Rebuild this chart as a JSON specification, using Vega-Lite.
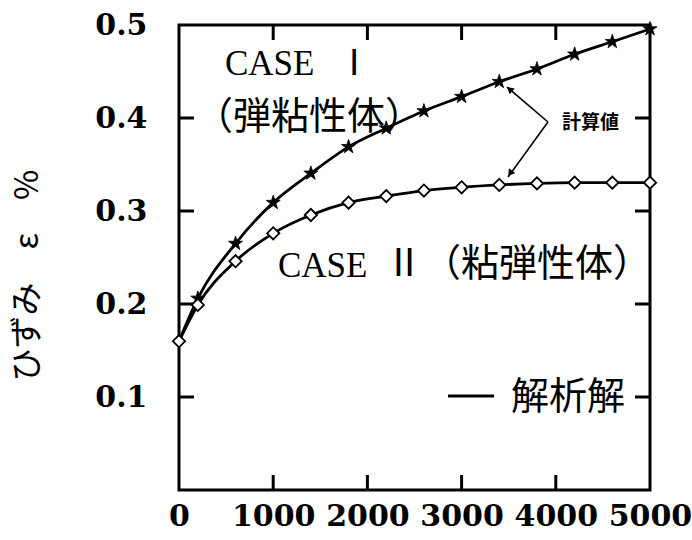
{
  "$schema": "https://vega.github.io/schema/vega-lite/v6.json",
  "autosize": "none",
  "padding": {"left": 179, "top": 25, "right": 42, "bottom": 50},
  "width": 471,
  "height": 465,
  "background": "white",
  "config": {
    "view": {"stroke": "black", "strokeWidth": 3},
    "axis": {"grid": false, "domain": false, "ticks": false, "tickSize": 0, "labelColor": "black", "titleColor": "black"}
  },
  "datasets": {
    "curves": [
      {"case": "I", "t": 0, "e": 0.160},
      {"case": "I", "t": 200, "e": 0.206},
      {"case": "I", "t": 600, "e": 0.265},
      {"case": "I", "t": 1000, "e": 0.309},
      {"case": "I", "t": 1400, "e": 0.3405},
      {"case": "I", "t": 1800, "e": 0.369},
      {"case": "I", "t": 2200, "e": 0.389},
      {"case": "I", "t": 2600, "e": 0.4075},
      {"case": "I", "t": 3000, "e": 0.423},
      {"case": "I", "t": 3400, "e": 0.439},
      {"case": "I", "t": 3800, "e": 0.4527},
      {"case": "I", "t": 4200, "e": 0.4685},
      {"case": "I", "t": 4600, "e": 0.482},
      {"case": "I", "t": 5000, "e": 0.4957},
      {"case": "II", "t": 0, "e": 0.160},
      {"case": "II", "t": 200, "e": 0.199},
      {"case": "II", "t": 600, "e": 0.246},
      {"case": "II", "t": 1000, "e": 0.276},
      {"case": "II", "t": 1400, "e": 0.2957},
      {"case": "II", "t": 1800, "e": 0.309},
      {"case": "II", "t": 2200, "e": 0.316},
      {"case": "II", "t": 2600, "e": 0.322},
      {"case": "II", "t": 3000, "e": 0.3255},
      {"case": "II", "t": 3400, "e": 0.328},
      {"case": "II", "t": 3800, "e": 0.3297},
      {"case": "II", "t": 4200, "e": 0.3305},
      {"case": "II", "t": 4600, "e": 0.3305},
      {"case": "II", "t": 5000, "e": 0.3305}
    ],
    "xticks": [{"v": 1000}, {"v": 2000}, {"v": 3000}, {"v": 4000}],
    "yticks": [{"v": 0.1}, {"v": 0.2}, {"v": 0.3}, {"v": 0.4}]
  },
  "layer": [
    {
      "data": {"name": "curves"},
      "mark": {"type": "line", "interpolate": "monotone", "stroke": "black", "strokeWidth": 2.8},
      "encoding": {
        "x": {
          "field": "t", "type": "quantitative",
          "scale": {"domain": [0, 5000], "nice": false, "zero": false},
          "axis": {
            "orient": "bottom", "values": [0, 1000, 2000, 3000, 4000, 5000],
            "labelFont": "DejaVu Serif", "labelFontWeight": "bold", "labelFontSize": 30,
            "labelPadding": 11, "labelFlush": false, "labelOverlap": false, "title": null, "format": "d"
          }
        },
        "y": {
          "field": "e", "type": "quantitative",
          "scale": {"domain": [0, 0.5], "nice": false},
          "axis": {
            "orient": "left", "values": [0.1, 0.2, 0.3, 0.4, 0.5], "format": ".1f",
            "labelFont": "DejaVu Serif", "labelFontWeight": "bold", "labelFontSize": 30,
            "labelPadding": 32, "labelFlush": false, "labelOverlap": false,
            "title": "ひずみ　ε　%", "titleFont": "Noto Sans CJK JP", "titleFontSize": 33, "titleFontWeight": "normal",
            "titleX": -152, "titleY": 250, "titleAngle": -90, "titleAlign": "center", "titleBaseline": "middle"
          }
        },
        "detail": {"field": "case"}
      }
    },
    {
      "data": {"name": "xticks"},
      "mark": {"type": "rule", "stroke": "black", "strokeWidth": 3},
      "encoding": {
        "x": {"field": "v", "type": "quantitative"},
        "y": {"datum": 0, "type": "quantitative"},
        "y2": {"datum": 0.0161}
      }
    },
    {
      "data": {"name": "xticks"},
      "mark": {"type": "rule", "stroke": "black", "strokeWidth": 3},
      "encoding": {
        "x": {"field": "v", "type": "quantitative"},
        "y": {"datum": 0.5, "type": "quantitative"},
        "y2": {"datum": 0.4839}
      }
    },
    {
      "data": {"name": "yticks"},
      "mark": {"type": "rule", "stroke": "black", "strokeWidth": 3},
      "encoding": {
        "y": {"field": "v", "type": "quantitative"},
        "x": {"datum": 0, "type": "quantitative"},
        "x2": {"datum": 159}
      }
    },
    {
      "data": {"name": "yticks"},
      "mark": {"type": "rule", "stroke": "black", "strokeWidth": 3},
      "encoding": {
        "y": {"field": "v", "type": "quantitative"},
        "x": {"datum": 5000, "type": "quantitative"},
        "x2": {"datum": 4841}
      }
    },
    {
      "data": {"name": "curves"},
      "transform": [{"filter": "datum.case == 'I' && datum.t > 0"}],
      "mark": {"type": "point", "shape": "M0,-1L0.2245,-0.309L0.951,-0.309L0.363,0.118L0.588,0.809L0,0.382L-0.588,0.809L-0.363,0.118L-0.951,-0.309L-0.2245,-0.309Z", "filled": true, "fill": "black", "stroke": "black", "strokeWidth": 0.8, "size": 220, "opacity": 1},
      "encoding": {
        "x": {"field": "t", "type": "quantitative"},
        "y": {"field": "e", "type": "quantitative"}
      }
    },
    {
      "data": {"name": "curves"},
      "transform": [{"filter": "datum.case == 'II'"}],
      "mark": {"type": "point", "shape": "diamond", "filled": true, "fill": "white", "stroke": "black", "strokeWidth": 1.8, "size": 150, "opacity": 1},
      "encoding": {
        "x": {"field": "t", "type": "quantitative"},
        "y": {"field": "e", "type": "quantitative"}
      }
    },
    {
      "data": {"values": [{"label": "CASE　Ⅰ", "x": 488, "y": 0.446}, {"label": "CASE", "x": 1051, "y": 0.229}]},
      "mark": {"type": "text", "font": "Liberation Serif", "fontSize": 35, "align": "left", "baseline": "alphabetic", "color": "black"},
      "encoding": {
        "x": {"field": "x", "type": "quantitative"},
        "y": {"field": "y", "type": "quantitative"},
        "text": {"field": "label"}
      }
    },
    {
      "data": {"values": [{"label": "（弾粘性体）", "x": 170, "y": 0.4}, {"label": "Ⅱ（粘弾性体）", "x": 2187, "y": 0.2419}, {"label": "解析解", "x": 3525, "y": 0.0989}]},
      "mark": {"type": "text", "font": "Noto Sans CJK JP", "fontSize": 38, "align": "left", "baseline": "middle", "color": "black"},
      "encoding": {
        "x": {"field": "x", "type": "quantitative"},
        "y": {"field": "y", "type": "quantitative"},
        "text": {"field": "label"}
      }
    },
    {
      "data": {"values": [{"label": "計算値", "x": 4066, "y": 0.3946}]},
      "mark": {"type": "text", "font": "Noto Sans CJK JP", "fontSize": 19, "fontWeight": "bold", "align": "left", "baseline": "middle", "color": "black"},
      "encoding": {
        "x": {"field": "x", "type": "quantitative"},
        "y": {"field": "y", "type": "quantitative"},
        "text": {"field": "label"}
      }
    },
    {
      "data": {"values": [
        {"x": 3917, "y": 0.3957, "x2": 3482, "y2": 0.4333},
        {"x": 3917, "y": 0.3957, "x2": 3493, "y2": 0.3366}
      ]},
      "mark": {"type": "rule", "stroke": "black", "strokeWidth": 1.6},
      "encoding": {
        "x": {"field": "x", "type": "quantitative"},
        "y": {"field": "y", "type": "quantitative"},
        "x2": {"field": "x2"},
        "y2": {"field": "y2"}
      }
    },
    {
      "data": {"values": [{"x": 2856, "y": 0.1011, "x2": 3344}]},
      "mark": {"type": "rule", "stroke": "black", "strokeWidth": 3},
      "encoding": {
        "x": {"field": "x", "type": "quantitative"},
        "y": {"field": "y", "type": "quantitative"},
        "x2": {"field": "x2"}
      }
    },
    {
      "data": {"values": [{"x": 3510, "y": 0.431}]},
      "mark": {"type": "point", "shape": "triangle-up", "filled": true, "fill": "black", "size": 60, "angle": 310.5, "opacity": 1},
      "encoding": {
        "x": {"field": "x", "type": "quantitative"},
        "y": {"field": "y", "type": "quantitative"}
      }
    },
    {
      "data": {"values": [{"x": 3515, "y": 0.3405}]},
      "mark": {"type": "point", "shape": "triangle-up", "filled": true, "fill": "black", "size": 60, "angle": 216, "opacity": 1},
      "encoding": {
        "x": {"field": "x", "type": "quantitative"},
        "y": {"field": "y", "type": "quantitative"}
      }
    }
  ]
}
